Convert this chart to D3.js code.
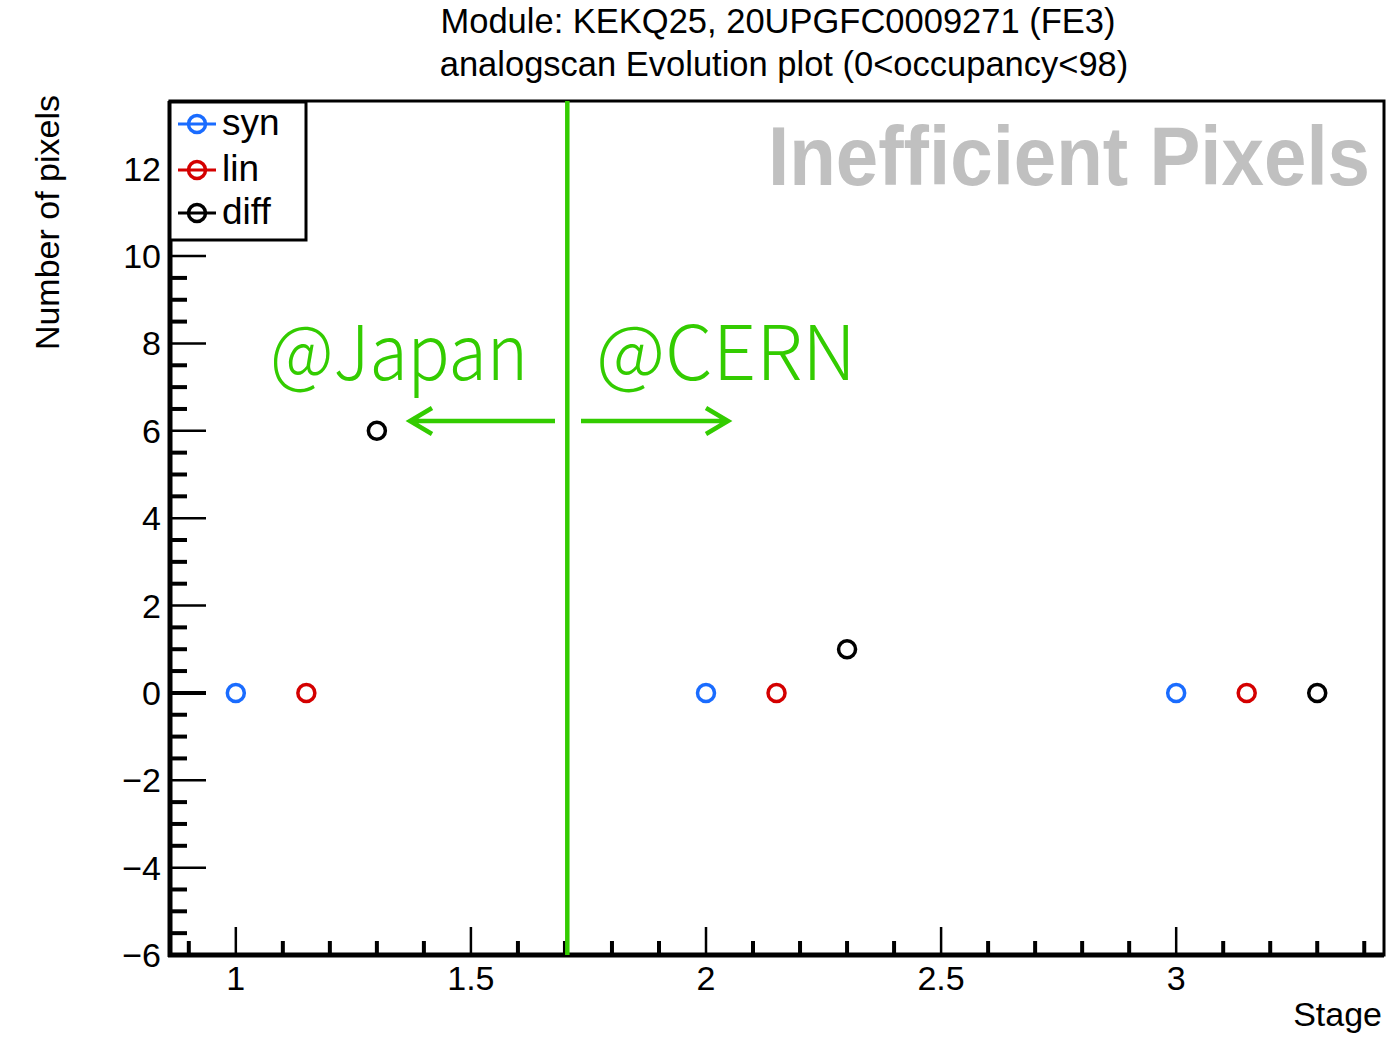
<!DOCTYPE html>
<html><head><meta charset="utf-8">
<script src="https://cdn.jsdelivr.net/npm/d3@7"></script>
<style>body{margin:0;background:#fff}svg{display:block}</style>
</head><body>
<svg id="c" width="1389" height="1041"></svg>
<script>
const seriesNames = ["syn", "lin", "diff"];
const seriesColors = ["#1a6cff", "#d40000", "#000000"];
const stageX = [[1, 2, 3], [1.15, 2.15, 3.15], [1.3, 2.3, 3.3]];
const seriesValues = [[0, 0, 0], [0, 0, 0], [6, 1, 0]];
const yTickLabels = [-6, -4, -2, 0, 2, 4, 6, 8, 10, 12];
const xTickLabels = [1, 1.5, 2, 2.5, 3];
const dividerStage = 1.705;
const titleLines = ["Module: KEKQ25, 20UPGFC0009271 (FE3)", "analogscan Evolution plot (0<occupancy<98)"];

const svg = d3.select("#c");
const L = 170, R = 1384, T = 101, B = 955;
const x = d3.scaleLinear().domain([0.86, 3.442]).range([L, R]);
const y = d3.scaleLinear().domain([-6, 13.55]).range([B, T]);
const font = "'Liberation Sans', Arial, sans-serif";

// frame
svg.append("rect").attr("x", L).attr("y", T).attr("width", R - L).attr("height", B - T)
  .attr("fill", "none").attr("stroke", "#000").attr("stroke-width", 3);
svg.append("line").attr("x1", L).attr("x2", L).attr("y1", T).attr("y2", B + 2).attr("stroke", "#000").attr("stroke-width", 5);
svg.append("line").attr("x1", L - 2).attr("x2", R).attr("y1", B).attr("y2", B).attr("stroke", "#000").attr("stroke-width", 5);

// y ticks
const yMinor = d3.range(-6, 13.51, 0.5);
svg.append("g").selectAll("line").data(yMinor).join("line")
  .attr("x1", L).attr("x2", d => Math.abs(d % 2) < 1e-9 ? L + 36 : L + 17)
  .attr("y1", d => y(d)).attr("y2", d => y(d))
  .attr("stroke", "#000").attr("stroke-width", d => Math.abs(d % 2) < 1e-9 ? (d === 0 ? 4 : 2.5) : 4);
svg.append("g").selectAll("text").data(yTickLabels).join("text")
  .attr("x", 161).attr("y", d => y(d) + 12).attr("text-anchor", "end")
  .attr("font-family", font).attr("font-size", 34).text(d => d < 0 ? "\u2212" + Math.abs(d) : d);

// x ticks
const xMinor = d3.range(0.9, 3.44, 0.1).map(v => Math.round(v * 10) / 10);
svg.append("g").selectAll("line").data(xMinor).join("line")
  .attr("x1", d => x(d)).attr("x2", d => x(d))
  .attr("y1", B).attr("y2", d => (Math.round(d * 10) % 5 === 0) ? B - 28 : B - 14)
  .attr("stroke", "#000").attr("stroke-width", d => (Math.round(d * 10) % 5 === 0) ? 2.5 : 4);
svg.append("g").selectAll("text").data(xTickLabels).join("text")
  .attr("x", d => x(d)).attr("y", 990).attr("text-anchor", "middle")
  .attr("font-family", font).attr("font-size", 34).text(d => d);

// axis titles
svg.append("text").attr("x", 1382).attr("y", 1026).attr("text-anchor", "end")
  .attr("font-family", font).attr("font-size", 34).text("Stage");
svg.append("text").attr("transform", "translate(59,95) rotate(-90)").attr("text-anchor", "end")
  .attr("font-family", font).attr("font-size", 34).text("Number of pixels");

// titles
titleLines.forEach((t, i) => {
  svg.append("text").attr("x", [778, 784][i]).attr("y", 33 + i * 43).attr("text-anchor", "middle")
    .attr("font-family", font).attr("font-size", 34.5).text(t);
});

// divider and annotations
const green = "#33cc00";
svg.append("line").attr("x1", x(dividerStage)).attr("x2", x(dividerStage)).attr("y1", T).attr("y2", B)
  .attr("stroke", green).attr("stroke-width", 4.5);
const jp = "'Noto Sans CJK JP', 'Noto Sans', sans-serif";
svg.append("text").attr("x", 270).attr("y", 380).attr("fill", green).attr("font-family", jp)
  .attr("font-weight", 300).attr("font-size", 76).attr("textLength", 258)
  .attr("lengthAdjust", "spacingAndGlyphs").text("@Japan");
svg.append("text").attr("x", 596).attr("y", 380).attr("fill", green).attr("font-family", jp)
  .attr("font-weight", 300).attr("font-size", 76).attr("textLength", 260)
  .attr("lengthAdjust", "spacingAndGlyphs").text("@CERN");
const ay = 421;
svg.append("path").attr("d", `M555,${ay} H410 M432,${ay - 13} L410,${ay} L432,${ay + 13}`)
  .attr("fill", "none").attr("stroke", green).attr("stroke-width", 4.5);
svg.append("path").attr("d", `M581,${ay} H728 M706,${ay - 13} L728,${ay} L706,${ay + 13}`)
  .attr("fill", "none").attr("stroke", green).attr("stroke-width", 4.5);

svg.append("text").attr("transform", "translate(768,185) scale(1,1.09)").attr("fill", "#c0c0c0")
  .attr("font-family", font).attr("font-weight", "bold")
  .attr("font-size", 76).attr("textLength", 602).attr("lengthAdjust", "spacingAndGlyphs")
  .text("Inefficient Pixels");

// points
seriesNames.forEach((name, s) => {
  svg.append("g").selectAll("circle").data(seriesValues[s]).join("circle")
    .attr("cx", (d, i) => x(stageX[s][i])).attr("cy", d => y(d)).attr("r", 8.5)
    .attr("fill", "none").attr("stroke", seriesColors[s]).attr("stroke-width", 3.5);
});

// legend
const lg = svg.append("g");
lg.append("rect").attr("x", 170).attr("y", 102).attr("width", 136).attr("height", 138)
  .attr("fill", "#fff").attr("stroke", "#000").attr("stroke-width", 3);
seriesNames.forEach((name, s) => {
  const yy = [124, 170, 213][s];
  lg.append("line").attr("x1", 178).attr("x2", 216).attr("y1", yy).attr("y2", yy)
    .attr("stroke", seriesColors[s]).attr("stroke-width", 3);
  lg.append("circle").attr("cx", 197).attr("cy", yy).attr("r", 8.5).attr("fill", "none")
    .attr("stroke", seriesColors[s]).attr("stroke-width", 3.5);
  lg.append("text").attr("x", 222).attr("y", yy + 11).attr("font-family", font)
    .attr("font-size", 37).text(name);
});
</script>
</body></html>
